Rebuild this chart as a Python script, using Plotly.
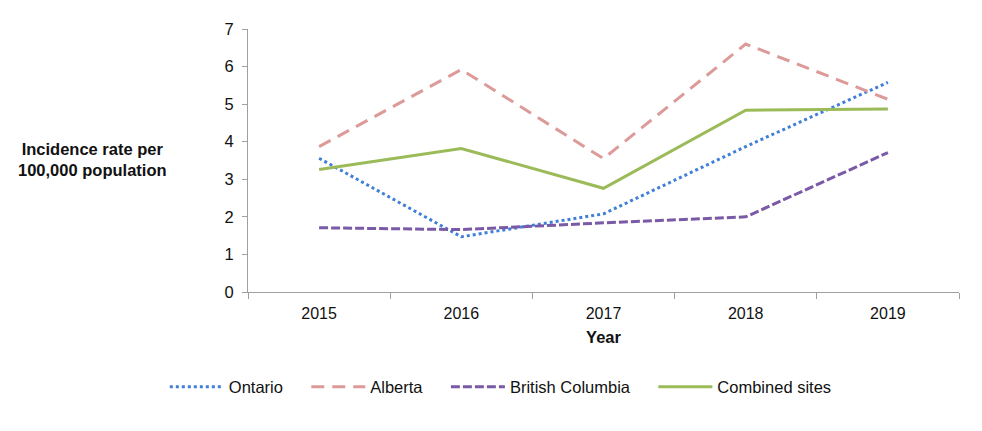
import plotly.graph_objects as go

years = ["2015", "2016", "2017", "2018", "2019"]
ontario = [3.56, 1.47, 2.08, 3.87, 5.58]
alberta = [3.87, 5.92, 3.55, 6.60, 5.13]
british_columbia = [1.71, 1.66, 1.84, 2.00, 3.71]
combined = [3.26, 3.82, 2.76, 4.84, 4.87]
series_names = ["Ontario", "Alberta", "British Columbia", "Combined sites"]

FONT = "Liberation Sans, Arial, sans-serif"
AXC = "#a0a0a0"
PAD = "\u00a0" * 4  # extra spacing between legend entries

fig = go.Figure()
fig.add_trace(go.Scatter(x=years, y=ontario, name=series_names[0] + PAD, mode="lines",
                         line=dict(color="#3f7fd8", width=3, dash="3px,3px")))
fig.add_trace(go.Scatter(x=years, y=alberta, name=series_names[1] + PAD, mode="lines",
                         line=dict(color="#dc9a98", width=3, dash="13px,8px")))
fig.add_trace(go.Scatter(x=years, y=british_columbia, name=series_names[2] + PAD, mode="lines",
                         line=dict(color="#7a5aa6", width=3, dash="9px,3px")))
fig.add_trace(go.Scatter(x=years, y=combined, name=series_names[3], mode="lines",
                         line=dict(color="#9bbb59", width=3)))

# page body has an 8px margin, so the figure is sized to fill the rest
fig.update_layout(
    width=974, height=423,
    margin=dict(l=240, r=23, t=18, b=139),
    paper_bgcolor="white", plot_bgcolor="white",
    font=dict(family=FONT, size=16, color="#111"),
    showlegend=True,
    legend=dict(orientation="h", x=-0.117, y=-0.361, xanchor="left", yanchor="middle",
                font=dict(size=16.5), itemwidth=54, traceorder="normal"),
    xaxis=dict(type="category", range=[-0.5, 4.5], tickson="boundaries",
               showline=True, linecolor=AXC, linewidth=1, ticks="outside",
               ticklen=6, tickcolor=AXC, showgrid=False, zeroline=False,
               tickfont=dict(size=16), ticklabelstandoff=7,
               title=dict(text="<b>Year</b>", font=dict(size=16.5), standoff=10)),
    yaxis=dict(range=[0, 7], dtick=1, showline=True, linecolor=AXC, linewidth=1,
               ticks="outside", ticklen=5, tickcolor=AXC, showgrid=False,
               zeroline=False, tickfont=dict(size=16.5), ticklabelstandoff=5),
    annotations=[dict(text="<b>Incidence rate per<br>100,000 population</b>",
                      xref="paper", yref="paper", x=-0.2194, y=0.504,
                      xanchor="center", yanchor="middle", showarrow=False,
                      font=dict(size=16.5), align="center")],
)

fig.write_html("out.html")
